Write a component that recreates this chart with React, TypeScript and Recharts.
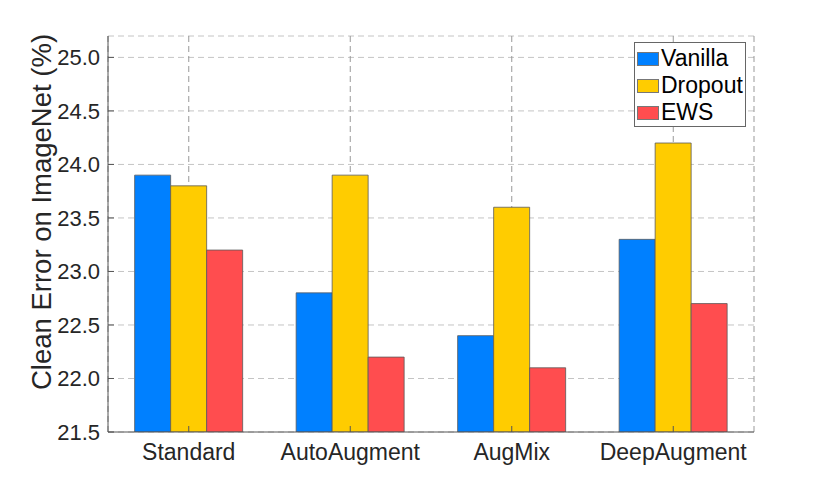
import { BarChart, Bar, XAxis, YAxis, CartesianGrid } from "recharts";

const methods = ["Standard", "AutoAugment", "AugMix", "DeepAugment"];
const vanilla = [23.9, 22.8, 22.4, 23.3];
const dropout = [23.8, 23.9, 23.6, 24.2];
const ews = [23.2, 22.2, 22.1, 22.7];
const yTicks = [21.5, 22.0, 22.5, 23.0, 23.5, 24.0, 24.5, 25.0];

const series = [
  { key: "vanilla", name: "Vanilla", color: "#0080FF" },
  { key: "dropout", name: "Dropout", color: "#FFCC00" },
  { key: "ews", name: "EWS", color: "#FF4D4F" },
];

const data = methods.map((m, i) => ({
  method: m,
  vanilla: vanilla[i],
  dropout: dropout[i],
  ews: ews[i],
}));

const FONT = "'Liberation Sans', Arial, Helvetica, sans-serif";
const AXIS = "#555555";

function LegendBox() {
  return (
    <div
      style={{
        position: "absolute",
        left: 634,
        top: 42,
        width: 112,
        height: 85,
        border: "1px solid #666",
        background: "#fff",
        boxSizing: "border-box",
        paddingTop: 2,
        fontFamily: FONT,
        zIndex: 2,
      }}
    >
      {series.map((s) => (
        <div
          key={s.key}
          style={{ display: "flex", alignItems: "center", height: 27 }}
        >
          <div
            style={{
              width: 20,
              height: 12,
              background: s.color,
              border: "1px solid #777",
              marginLeft: 2,
              marginRight: 2,
            }}
          />
          <span style={{ fontSize: 23, color: "#000", lineHeight: "27px" }}>
            {s.name}
          </span>
        </div>
      ))}
    </div>
  );
}

const YLabel = () => (
  <text
    x={0}
    y={0}
    transform="translate(51, 212) rotate(-90)"
    textAnchor="middle"
    fill="#262626"
    fontSize={27.5}
    fontFamily={FONT}
  >
    Clean Error on ImageNet (%)
  </text>
);

export default function App() {
  return (
    <div
      style={{
        position: "absolute",
        left: 0,
        top: 0,
        width: 830,
        height: 485,
        background: "#fff",
      }}
    >
      <BarChart
        width={830}
        height={485}
        data={data}
        margin={{ top: 36, right: 76, bottom: 0, left: 0 }}
        barCategoryGap="16.5%"
        barGap={0}
      >
        <CartesianGrid
          stroke="#c4c4c4"
          strokeDasharray="6 4"
          vertical={false}
        />
        <CartesianGrid
          stroke="#999999"
          strokeDasharray="6 4"
          horizontal={false}
        />
        <XAxis
          dataKey="method"
          height={53}
          stroke={AXIS}
          tickSize={-6}
          tickMargin={18}
          tick={{ fill: "#262626", fontSize: 23, fontFamily: FONT }}
        />
        <XAxis
          dataKey="method"
          xAxisId="top"
          orientation="top"
          height={0}
          stroke={AXIS}
          tickSize={-6}
          tickFormatter={() => ""}
        />
        <YAxis
          width={108}
          domain={[21.5, 25.2]}
          ticks={yTicks}
          allowDataOverflow
          stroke={AXIS}
          tickSize={-6}
          tickMargin={14}
          tickFormatter={(v: number) => v.toFixed(1)}
          tick={{ fill: "#262626", fontSize: 22, fontFamily: FONT }}
          label={<YLabel />}
        />
        <YAxis
          yAxisId="right"
          orientation="right"
          width={0}
          domain={[21.5, 25.2]}
          ticks={yTicks}
          stroke={AXIS}
          tickSize={-6}
          tickFormatter={() => ""}
        />
        {series.map((s) => (
          <Bar
            key={s.key}
            dataKey={s.key}
            name={s.name}
            fill={s.color}
            stroke="#5a5a5a"
            strokeWidth={0.8}
            isAnimationActive={false}
          />
        ))}
      </BarChart>
      <LegendBox />
    </div>
  );
}
